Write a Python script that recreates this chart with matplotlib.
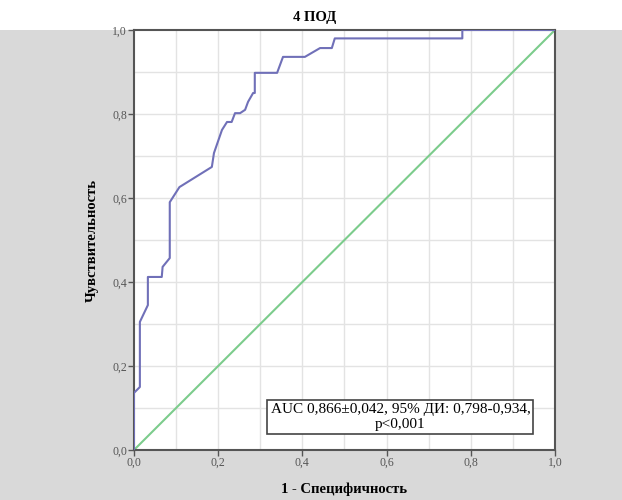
# ROC curve, 4 POD
import matplotlib
matplotlib.use('Agg')
import matplotlib.pyplot as plt
from matplotlib.patches import Rectangle

# ROC points (1 - specificity, sensitivity)
fpr = [0, 0, 0.014, 0.014, 0.033, 0.033, 0.066, 0.068, 0.085, 0.085, 0.108,
       0.185, 0.19, 0.209, 0.221, 0.232, 0.240, 0.252, 0.264, 0.271, 0.283,
       0.287, 0.287, 0.34, 0.354, 0.406, 0.442, 0.47, 0.477, 0.78, 0.78, 1.0]
tpr = [0, 0.136, 0.15, 0.305, 0.345, 0.412, 0.412, 0.436, 0.457, 0.59, 0.626,
       0.674, 0.707, 0.762, 0.781, 0.781, 0.802, 0.802, 0.81, 0.829, 0.85,
       0.85, 0.898, 0.898, 0.936, 0.936, 0.957, 0.957, 0.98, 0.98, 1.0, 1.0]
ref_line = [0, 1]

ticks = [0.0, 0.2, 0.4, 0.6, 0.8, 1.0]
tick_labels = ['0,0', '0,2', '0,4', '0,6', '0,8', '1,0']
grid_pos = [0.1, 0.2, 0.3, 0.4, 0.5, 0.6, 0.7, 0.8, 0.9]

title = '4 ПОД'
xlabel = '1 - Специфичность'
ylabel = 'Чувствительность'
auc_text = 'AUC 0,866±0,042, 95% ДИ: 0,798-0,934,\np<0,001'

plt.rcParams['font.family'] = ['Liberation Serif', 'DejaVu Serif']

fig = plt.figure(figsize=(6.22, 5.0), dpi=100, facecolor='white')
# grey panel behind the chart
fig.patches.append(Rectangle((0, 0), 1, 0.94, transform=fig.transFigure,
                             facecolor='#d9d9d9', edgecolor='none', zorder=-5))

ax = fig.add_axes([0.2154, 0.1, 0.6768, 0.84])
ax.set_facecolor('white')

for g in grid_pos:
    ax.axvline(g, color='#e3e3e3', linewidth=1, zorder=1)
    ax.axhline(g, color='#e3e3e3', linewidth=1, zorder=1)

ax.plot(ref_line, ref_line, color='#7ccc8c', linewidth=1.5, zorder=2)
ax.plot(fpr, tpr, color='#7070b8', linewidth=1.5, zorder=3)

ax.set_xlim(0, 1)
ax.set_ylim(0, 1)
ax.set_xticks(ticks)
ax.set_xticklabels(tick_labels)
ax.set_yticks(ticks)
ax.set_yticklabels(tick_labels)
ax.tick_params(direction='out', length=4, width=1, color='#555555',
               labelsize=8.5, labelcolor='#555555', pad=1)

for s in ax.spines.values():
    s.set_color('#555555')
    s.set_linewidth(1.5)

ax.set_xlabel(xlabel, fontsize=10.5, fontweight='bold', labelpad=10)
ax.set_ylabel(ylabel, fontsize=10.5, fontweight='bold', labelpad=10)

fig.text(0.506, 0.966, title, ha='center', va='center', fontsize=10.5,
         fontweight='bold')

ax.text(0.633, 0.078, auc_text, transform=ax.transAxes, ha='center',
        va='center', fontsize=11, linespacing=1.15, zorder=5,
        bbox=dict(boxstyle='square,pad=0.2', facecolor='white',
                  edgecolor='#444444', linewidth=1.2))

fig.savefig('out.png', dpi=100, facecolor=fig.get_facecolor())
